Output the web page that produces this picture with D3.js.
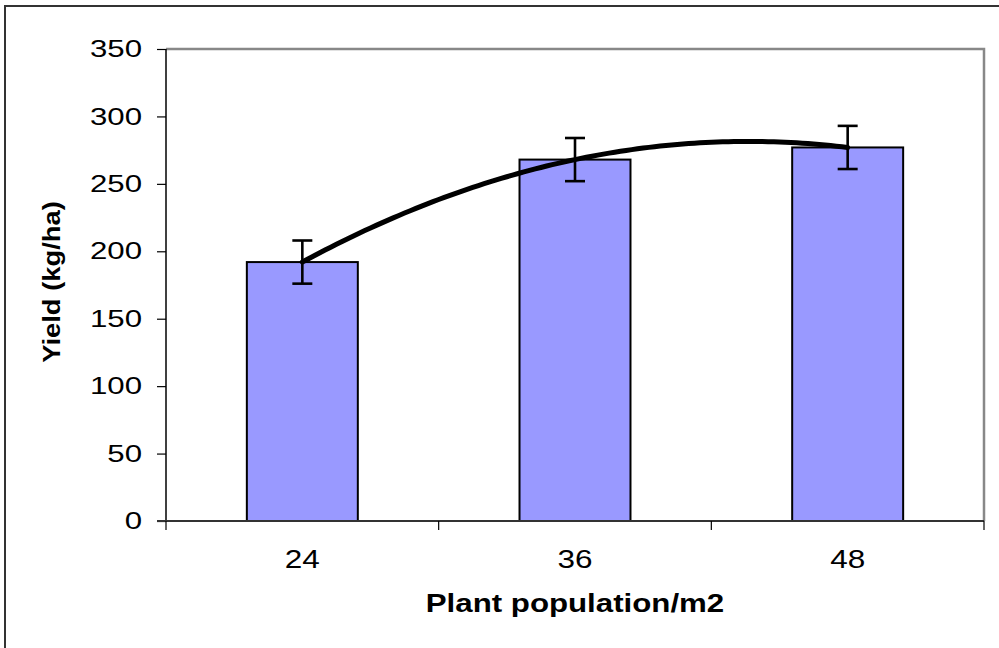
<!DOCTYPE html>
<html>
<head>
<meta charset="utf-8">
<script src="https://cdn.jsdelivr.net/npm/d3@7"></script>
<style>
  html, body { margin: 0; padding: 0; background: #fff; }
  svg { display: block; }
  text { font-family: "Liberation Sans", Arial, sans-serif; fill: #000; }
</style>
</head>
<body>
<svg id="chart" width="999" height="648"></svg>
<script>
// Plant population (per m2) and mean yield with standard error
const categories = ["24", "36", "48"];
const populations = [24, 36, 48];
const yieldMeans = [192, 268, 277];
const yieldErrors = [16, 16, 16];
const yTicks = [0, 50, 100, 150, 200, 250, 300, 350];

const svg = d3.select("#chart");
const W = 999, H = 648;
const m = { left: 166, top: 49, right: 984, bottom: 521 };

// Outer frame
svg.append("rect")
  .attr("x", 5).attr("y", 6).attr("width", W + 10).attr("height", H + 10)
  .attr("fill", "#fff").attr("stroke", "#333").attr("stroke-width", 2);

const x = d3.scaleBand().domain(categories).range([m.left, m.right])
  .paddingInner(0.593).paddingOuter(0.2965);
const y = d3.scaleLinear().domain([0, 350]).range([m.bottom, m.top]);

// Plot area border (top and right in grey)
svg.append("path")
  .attr("d", `M${m.left},${m.top}H${m.right}V${m.bottom}`)
  .attr("fill", "none").attr("stroke", "#888").attr("stroke-width", 2.5);

// Bars
svg.append("g").selectAll("rect").data(yieldMeans).join("rect")
  .attr("x", (d, i) => x(categories[i]))
  .attr("y", d => y(d))
  .attr("width", x.bandwidth())
  .attr("height", d => y(0) - y(d))
  .attr("fill", "#9999ff").attr("stroke", "#000").attr("stroke-width", 2);

// Y axis (labels drawn wide, as in the original export)
const yAxis = svg.append("g").attr("transform", `translate(${m.left},0)`)
  .call(d3.axisLeft(y).tickValues(yTicks).tickSize(9).tickFormat(d3.format("d")));
yAxis.select(".domain").attr("stroke", "#000").attr("stroke-width", 1.5).attr("d", `M0,${m.top}V${m.bottom}`);
yAxis.selectAll(".tick line").attr("stroke", "#000").attr("stroke-width", 1.2);
yAxis.selectAll(".tick text")
  .attr("x", 0)
  .attr("transform", "translate(-24,0) scale(1.3,1)")
  .attr("font-family", null)
  .style("font-size", "24px");

// X axis: ticks at category boundaries
const bandStep = (m.right - m.left) / categories.length;
const boundaries = d3.range(categories.length + 1).map(i => m.left + i * bandStep);
const xAxis = svg.append("g");
xAxis.append("line")
  .attr("x1", m.left - 9).attr("x2", m.right)
  .attr("y1", m.bottom).attr("y2", m.bottom)
  .attr("stroke", "#333").attr("stroke-width", 2);
xAxis.selectAll("line.tk").data(boundaries).join("line").attr("class", "tk")
  .attr("x1", d => d).attr("x2", d => d)
  .attr("y1", m.bottom).attr("y2", m.bottom + 9)
  .attr("stroke", "#000").attr("stroke-width", 1.2);
xAxis.selectAll("text").data(categories).join("text")
  .attr("transform", d => `translate(${x(d) + x.bandwidth() / 2},568) scale(1.26,1)`)
  .attr("text-anchor", "middle")
  .style("font-size", "25px")
  .text(d => d);

// Error bars
const cap = 10;
const eb = svg.append("g").attr("stroke", "#000").attr("stroke-width", 2.6);
yieldMeans.forEach((v, i) => {
  const cx = x(categories[i]) + x.bandwidth() / 2;
  const hi = y(v + yieldErrors[i]), lo = y(v - yieldErrors[i]);
  eb.append("line").attr("x1", cx).attr("x2", cx).attr("y1", hi).attr("y2", lo);
  eb.append("line").attr("x1", cx - cap).attr("x2", cx + cap).attr("y1", hi).attr("y2", hi);
  eb.append("line").attr("x1", cx - cap).attr("x2", cx + cap).attr("y1", lo).attr("y2", lo);
});

// Quadratic trendline (least squares on the means)
function polyFit2(xs, ys) {
  const n = xs.length;
  let s = [0, 0, 0, 0, 0], t = [0, 0, 0];
  for (let i = 0; i < n; i++) {
    for (let k = 0; k < 5; k++) s[k] += Math.pow(xs[i], k);
    for (let k = 0; k < 3; k++) t[k] += ys[i] * Math.pow(xs[i], k);
  }
  const A = [[s[0], s[1], s[2], t[0]], [s[1], s[2], s[3], t[1]], [s[2], s[3], s[4], t[2]]];
  for (let c = 0; c < 3; c++) {
    for (let r = c + 1; r < 3; r++) {
      const f = A[r][c] / A[c][c];
      for (let k = c; k < 4; k++) A[r][k] -= f * A[c][k];
    }
  }
  const coef = [0, 0, 0];
  for (let r = 2; r >= 0; r--) {
    let sum = A[r][3];
    for (let k = r + 1; k < 3; k++) sum -= A[r][k] * coef[k];
    coef[r] = sum / A[r][r];
  }
  return coef;
}
const cf = polyFit2(populations, yieldMeans);
const px = d3.scaleLinear().domain([populations[0], populations[populations.length - 1]])
  .range([x(categories[0]) + x.bandwidth() / 2, x(categories[categories.length - 1]) + x.bandwidth() / 2]);
const trend = d3.range(populations[0], populations[populations.length - 1] + 0.001, 0.25)
  .map(p => [px(p), y(cf[0] + cf[1] * p + cf[2] * p * p)]);
svg.append("path")
  .attr("d", d3.line()(trend))
  .attr("fill", "none").attr("stroke", "#000").attr("stroke-width", 5)
  .attr("stroke-linecap", "round");

// Axis titles
svg.append("text")
  .attr("transform", "translate(60,282) rotate(-90) scale(1.14,1)")
  .attr("text-anchor", "middle")
  .style("font-size", "24px").style("font-weight", "bold")
  .text("Yield (kg/ha)");
svg.append("text")
  .attr("transform", `translate(${(m.left + m.right) / 2},612) scale(1.25,1)`)
  .attr("text-anchor", "middle")
  .style("font-size", "25px").style("font-weight", "bold")
  .text("Plant population/m2");
</script>
</body>
</html>
